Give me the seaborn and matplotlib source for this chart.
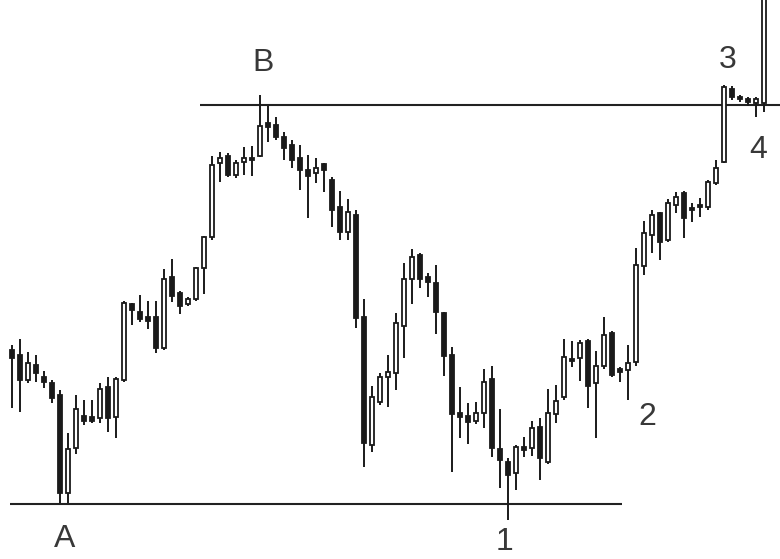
import numpy as np
import pandas as pd
import seaborn as sns
import matplotlib.pyplot as plt

# candle prices (one entry per bar)
opens = [209, 204, 179, 194, 182, 176, 164, 66, 111, 143, 142, 141, 172, 142, 179, 255, 247, 242, 242, 211,
         282, 266, 255, 260, 291, 322, 396, 403, 384, 397, 401, 403, 436, 434, 422, 414, 401, 389, 386, 395,
         379, 352, 327, 344, 242, 114, 157, 182, 186, 233, 280, 304, 282, 276, 246, 204, 146, 143, 138, 146,
         180, 110, 97, 86, 112, 111, 132, 97, 145, 162, 200, 201, 218, 176, 193, 226, 190, 189, 197, 293,
         324, 346, 319, 354, 366, 351, 354, 352, 376, 397, 470, 462, 460, 456, 456]
highs = [214, 220, 207, 204, 188, 179, 169, 126, 164, 159, 159, 176, 182, 182, 258, 256, 264, 258, 258, 290,
         300, 268, 262, 292, 323, 403, 407, 406, 399, 412, 413, 464, 453, 442, 427, 419, 414, 404, 401, 396,
         382, 368, 360, 349, 260, 173, 186, 204, 246, 296, 310, 306, 286, 294, 247, 212, 172, 156, 157, 190,
         193, 150, 101, 114, 122, 138, 141, 170, 174, 220, 218, 219, 220, 208, 242, 228, 192, 214, 311, 338,
         349, 347, 360, 367, 368, 356, 361, 379, 399, 474, 473, 464, 462, 462, 589]
lows = [151, 147, 176, 177, 171, 156, 56, 56, 105, 134, 136, 136, 127, 121, 177, 234, 237, 230, 206, 209,
        257, 245, 253, 258, 265, 319, 377, 382, 381, 384, 383, 402, 417, 419, 399, 391, 369, 341, 376, 367,
        332, 319, 319, 231, 92, 107, 154, 152, 169, 201, 255, 271, 262, 225, 183, 87, 121, 115, 135, 131,
        102, 71, 39, 69, 102, 103, 79, 95, 136, 159, 192, 178, 151, 121, 190, 182, 177, 159, 193, 284,
        306, 299, 317, 346, 321, 337, 342, 349, 374, 396, 459, 457, 453, 442, 447]
closes = [201, 179, 196, 186, 177, 161, 66, 110, 150, 138, 138, 170, 141, 180, 256, 249, 240, 238, 211, 280,
          263, 253, 260, 291, 322, 394, 401, 384, 396, 401, 399, 433, 432, 422, 411, 399, 389, 383, 391, 389,
          349, 327, 347, 241, 116, 162, 182, 187, 236, 280, 302, 280, 277, 247, 203, 145, 142, 137, 146, 177,
          111, 99, 84, 112, 109, 131, 101, 146, 158, 202, 198, 216, 173, 193, 224, 184, 187, 196, 294, 326,
          344, 317, 356, 362, 341, 349, 352, 377, 391, 472, 462, 460, 457, 460, 579]

resistance = 454
support = 55

# point labels: text, bar position, price position
label_text = ['A', 'B', '1', '2', '3', '4']
label_bar = [6.6, 31.4, 61.6, 79.4, 89.4, 93.25]
label_price = [12, 488, 9, 134, 491, 401]

sns.set_theme(style='white')
plt.rcParams['font.family'] = ['Liberation Sans', 'DejaVu Sans']

candles = pd.DataFrame({'open': opens, 'high': highs, 'low': lows, 'close': closes})
candles['bar'] = np.arange(len(candles))
candles['up'] = candles['close'] >= candles['open']

ink = '#1a1a1a'
fig = plt.figure(figsize=(7.8, 5.59), dpi=100)
ax = fig.add_axes([0, 0, 1, 1])

# wicks, then bodies over them (white fill hides wick inside hollow candles)
ax.vlines(candles['bar'], candles['low'], candles['high'], color=ink, lw=1.4, zorder=2)
body_lo = candles[['open', 'close']].min(axis=1)
body_h = (candles['close'] - candles['open']).abs().clip(lower=1.5)
ax.bar(candles['bar'], body_h, bottom=body_lo, width=0.62,
       color=np.where(candles['up'], 'white', ink), edgecolor=ink, linewidth=1.3, zorder=3)

ax.hlines(resistance, 23.5, 96, color='#222222', lw=1.5, zorder=1)
ax.hlines(support, -0.25, 76.25, color='#222222', lw=1.5, zorder=1)

for t, x, y in zip(label_text, label_bar, label_price):
    ax.text(x, y, t, ha='center', va='baseline', fontsize=23, color='#383838')

ax.set_xlim(-1.5, 96)
ax.set_ylim(0, 559)
ax.axis('off')

fig.savefig('out.png', dpi=100)
